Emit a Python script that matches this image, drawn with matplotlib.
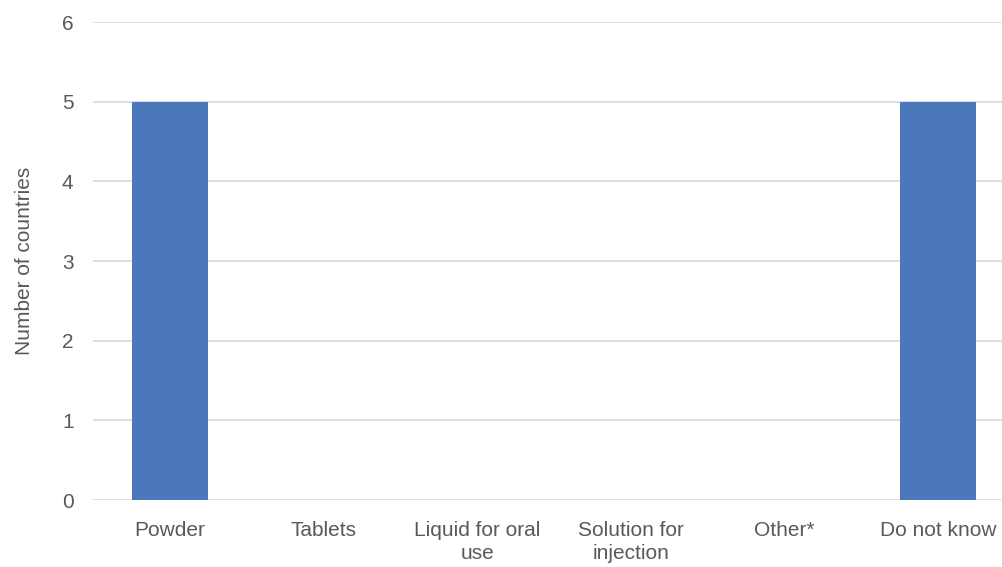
import matplotlib
matplotlib.use('Agg')
import matplotlib.pyplot as plt

categories = ["Powder", "Tablets", "Liquid for oral\nuse", "Solution for\ninjection", "Other*", "Do not know"]
counts = [5, 0, 0, 0, 0, 5]
yticks = [0, 1, 2, 3, 4, 5, 6]

plt.rcParams['font.family'] = ['Liberation Sans', 'DejaVu Sans']
text_color = "#595959"

fig = plt.figure(figsize=(10.03, 5.67), dpi=100)
ax = fig.add_axes([0.0927, 0.118, 0.9073, 0.843])

x = range(len(categories))
ax.bar(x, counts, width=0.495, color="#4A78BB", zorder=3)

ax.set_xlim(-0.5, 5.42)
ax.set_ylim(0, 6)
ax.set_yticks(yticks)
ax.set_xticks(list(x))
ax.set_xticklabels(categories, linespacing=1.3)
ax.tick_params(axis='both', length=0, labelsize=15, colors=text_color)
ax.tick_params(axis='x', pad=15)
ax.tick_params(axis='y', pad=14)
ax.grid(axis='y', color="#D9D9D9", linewidth=1.2, zorder=0)
for s in ax.spines.values():
    s.set_visible(False)
ax.set_ylabel("Number of countries", fontsize=15, color=text_color, labelpad=20)

fig.savefig("out.png", dpi=100)
